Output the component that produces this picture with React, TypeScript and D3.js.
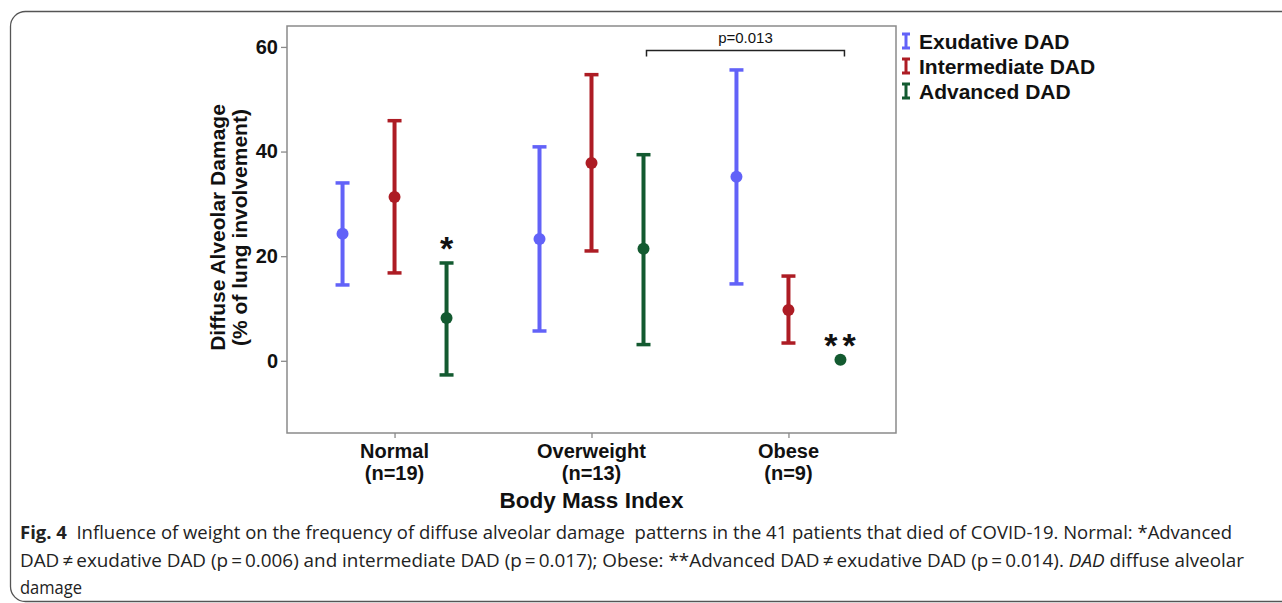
// Error-bar chart: diffuse alveolar damage by BMI group
import React, { useRef, useEffect } from 'react';
import * as d3 from 'd3';

const CATEGORIES = ['Normal', 'Overweight', 'Obese'];
const CATEGORY_N = ['(n=19)', '(n=13)', '(n=9)'];
const SERIES = ['Exudative DAD', 'Intermediate DAD', 'Advanced DAD'];
const COLORS = ['#6262f8', '#ad1c24', '#135a30'];

// mean, lower, upper per category for each series
const EXUDATIVE_MEAN = [24.3, 23.3, 35.2];
const EXUDATIVE_LOW = [14.5, 5.7, 14.7];
const EXUDATIVE_HIGH = [34.0, 40.9, 55.6];
const INTERMEDIATE_MEAN = [31.3, 37.8, 9.7];
const INTERMEDIATE_LOW = [16.8, 21.0, 3.4];
const INTERMEDIATE_HIGH = [45.9, 54.7, 16.2];
const ADVANCED_MEAN = [8.2, 21.4, 0.2];
const ADVANCED_LOW = [-2.7, 3.1, 0.2];
const ADVANCED_HIGH = [18.7, 39.4, 0.2];

const Y_TICKS = [0, 20, 40, 60];
const STARS = [{ cat: 0, series: 2, text: '*' }, { cat: 2, series: 2, text: '**' }];
const BRACKET = { from: 1, to: 2, label: 'p=0.013', value: 59.3 };

const CAPTION_LINES = [
  [
    { t: 'Fig. 4', w: 'bold', s: 'normal' },
    { t: '  Influence of weight on the frequency of diffuse alveolar damage  patterns in the 41 patients that died of COVID-19. Normal: *Advanced', w: 'normal', s: 'normal' },
  ],
  [
    { t: 'DAD\u2009\u2260\u2009exudative DAD (p\u2009=\u20090.006) and intermediate DAD (p\u2009=\u20090.017); Obese: **Advanced DAD\u2009\u2260\u2009exudative DAD (p\u2009=\u20090.014). ', w: 'normal', s: 'normal' },
    { t: 'DAD', w: 'normal', s: 'italic' },
    { t: ' diffuse alveolar', w: 'normal', s: 'normal' },
  ],
  [{ t: 'damage', w: 'normal', s: 'normal' }],
];
const CAPTION_WIDTHS = [1212, 1224, 62];

export default function App() {
  const svgRef = useRef<SVGSVGElement | null>(null);

  useEffect(() => {
    const svg = d3.select(svgRef.current);
    svg.selectAll('*').remove();

    const W = 1282, H = 603;
    const plot = { left: 287, right: 896, top: 26, bottom: 433 };
    const font = 'Arial, "Liberation Sans", sans-serif';

    // outer frame
    svg.append('rect')
      .attr('x', 10.5).attr('y', 11.5)
      .attr('width', 1320).attr('height', 590)
      .attr('rx', 15)
      .attr('fill', 'none')
      .attr('stroke', '#555')
      .attr('stroke-width', 1.3);

    const x = d3.scalePoint<string>()
      .domain(CATEGORIES)
      .range([plot.left, plot.right])
      .padding(0.546);

    const y = d3.scaleLinear()
      .domain([-13.8, 64])
      .range([plot.bottom, plot.top]);

    const offset = d3.scalePoint<number>()
      .domain([0, 1, 2])
      .range([-52, 52]);

    // plot frame
    svg.append('rect')
      .attr('x', plot.left).attr('y', plot.top)
      .attr('width', plot.right - plot.left).attr('height', plot.bottom - plot.top)
      .attr('fill', 'none')
      .attr('stroke', '#8a8a8a')
      .attr('stroke-width', 1.5);

    // y axis
    const yAxis = svg.append('g')
      .attr('transform', `translate(${plot.left},0)`)
      .call(d3.axisLeft(y).tickValues(Y_TICKS).tickSize(6).tickPadding(3));
    yAxis.select('.domain').remove();
    yAxis.selectAll('.tick line').attr('stroke', '#8a8a8a').attr('stroke-width', 1.3);
    yAxis.selectAll('.tick text')
      .attr('fill', '#111')
      .style('font-family', font)
      .style('font-size', '20px')
      .style('font-weight', 'bold');

    // x axis
    const xAxis = svg.append('g')
      .attr('transform', `translate(0,${plot.bottom})`)
      .call(d3.axisBottom(x).tickSize(5).tickFormat(() => ''));
    xAxis.select('.domain').remove();
    xAxis.selectAll('.tick line').attr('stroke', '#8a8a8a').attr('stroke-width', 1.3);

    CATEGORIES.forEach((c, i) => {
      const t = svg.append('text')
        .attr('x', x(c)!)
        .attr('text-anchor', 'middle')
        .attr('fill', '#111')
        .style('font-family', font)
        .style('font-size', '20px')
        .style('font-weight', 'bold');
      t.append('tspan').attr('x', x(c)!).attr('y', 458).text(c);
      t.append('tspan').attr('x', x(c)!).attr('y', 480).text(CATEGORY_N[i]);
    });

    svg.append('text')
      .attr('x', (plot.left + plot.right) / 2)
      .attr('y', 508)
      .attr('text-anchor', 'middle')
      .attr('fill', '#111')
      .style('font-family', font)
      .style('font-size', '22.5px')
      .style('font-weight', 'bold')
      .text('Body Mass Index');

    // y axis title
    const yTitle = svg.append('text')
      .attr('transform', `translate(0,${(plot.top + plot.bottom) / 2 - 2}) rotate(-90)`)
      .attr('text-anchor', 'middle')
      .attr('fill', '#111')
      .style('font-family', font)
      .style('font-size', '21px')
      .style('font-weight', 'bold');
    yTitle.append('tspan').attr('x', 0).attr('y', 225).text('Diffuse Alveolar Damage');
    yTitle.append('tspan').attr('x', 0).attr('y', 247).text('(% of lung involvement)');

    // error bars
    const series = [
      { mean: EXUDATIVE_MEAN, low: EXUDATIVE_LOW, high: EXUDATIVE_HIGH },
      { mean: INTERMEDIATE_MEAN, low: INTERMEDIATE_LOW, high: INTERMEDIATE_HIGH },
      { mean: ADVANCED_MEAN, low: ADVANCED_LOW, high: ADVANCED_HIGH },
    ];
    const capW = 7;
    series.forEach((s, si) => {
      const g = svg.append('g').attr('stroke', COLORS[si]).attr('fill', COLORS[si]);
      CATEGORIES.forEach((c, ci) => {
        const cx = x(c)! + offset(si)!;
        if (s.high[ci] !== s.low[ci]) {
          g.append('line').attr('x1', cx).attr('x2', cx)
            .attr('y1', y(s.low[ci])).attr('y2', y(s.high[ci]))
            .attr('stroke-width', 4);
          [s.low[ci], s.high[ci]].forEach(v => {
            g.append('line').attr('x1', cx - capW).attr('x2', cx + capW)
              .attr('y1', y(v)).attr('y2', y(v))
              .attr('stroke-width', 3.5);
          });
        }
        g.append('circle').attr('cx', cx).attr('cy', y(s.mean[ci])).attr('r', 6).attr('stroke', 'none');
      });
    });

    // significance stars
    STARS.forEach(st => {
      const cx = x(CATEGORIES[st.cat])! + offset(st.series)!;
      const top = Math.max(series[st.series].high[st.cat], series[st.series].mean[st.cat]);
      svg.append('text')
        .attr('x', cx + (st.text.length > 1 ? 2 : 0))
        .attr('y', y(top) - 3)
        .attr('text-anchor', 'middle')
        .attr('fill', '#111')
        .style('font-family', font)
        .style('font-size', '34px')
        .style('font-weight', 'bold')
        .style('letter-spacing', st.text.length > 1 ? '5px' : '0')
        .text(st.text);
    });

    // bracket
    const bx1 = x(CATEGORIES[BRACKET.from])! + offset(0)! + 107;
    const bx2 = x(CATEGORIES[BRACKET.to])! + offset(2)! + 4;
    const by = y(BRACKET.value);
    svg.append('path')
      .attr('d', `M${bx1},${by + 6}V${by}H${bx2}V${by + 6}`)
      .attr('fill', 'none')
      .attr('stroke', '#222')
      .attr('stroke-width', 1.5);
    svg.append('text')
      .attr('x', (bx1 + bx2) / 2)
      .attr('y', by - 8)
      .attr('text-anchor', 'middle')
      .attr('fill', '#111')
      .style('font-family', font)
      .style('font-size', '15px')
      .text(BRACKET.label);

    // legend
    SERIES.forEach((name, i) => {
      const ly = 41 + i * 25;
      const lg = svg.append('g').attr('transform', `translate(906,${ly})`);
      lg.append('path')
        .attr('d', 'M-4,-7H4M0,-7V7M-4,7H4')
        .attr('stroke', COLORS[i])
        .attr('stroke-width', 3)
        .attr('fill', 'none');
      lg.append('text')
        .attr('x', 13)
        .attr('y', 7.5)
        .attr('fill', '#111')
        .style('font-family', font)
        .style('font-size', '21px')
        .style('font-weight', 'bold')
        .text(name);
    });

    // caption
    CAPTION_LINES.forEach((line, li) => {
      const t = svg.append('text')
        .attr('x', 20)
        .attr('y', 539 + li * 27.5)
        .attr('fill', '#222')
        .attr('textLength', CAPTION_WIDTHS[li])
        .attr('lengthAdjust', 'spacingAndGlyphs')
        .style('font-family', '"Open Sans", "Noto Sans", sans-serif')
        .style('font-size', '18px');
      line.forEach(p => {
        t.append('tspan')
          .style('font-weight', p.w)
          .style('font-style', p.s)
          .style('white-space', 'pre')
          .text(p.t);
      });
    });

    svg.attr('width', W).attr('height', H);
  }, []);

  return (
    <div style={{ position: 'absolute', left: 0, top: 0, background: '#fff' }}>
      <svg ref={svgRef} width={1282} height={603} style={{ display: 'block' }} />
    </div>
  );
}
